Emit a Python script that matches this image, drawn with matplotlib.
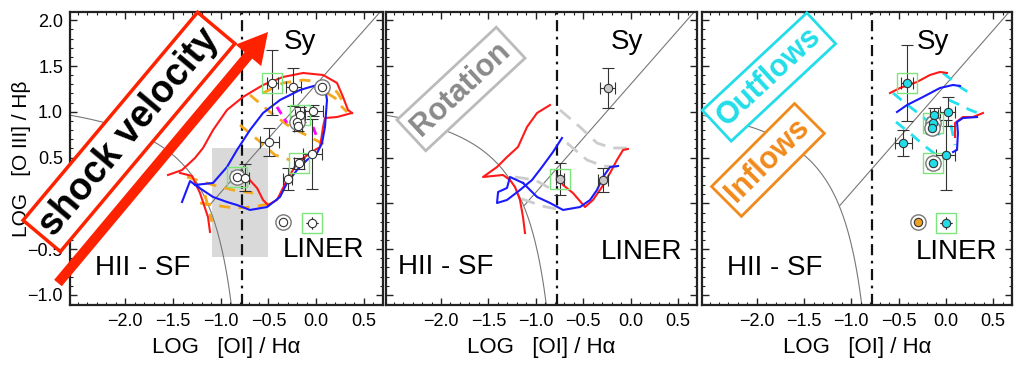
import matplotlib.pyplot as plt
import matplotlib.patches as mpatches
import numpy as np
from matplotlib.ticker import MultipleLocator

plt.rcParams['font.family'] = ['Liberation Sans', 'DejaVu Sans']

XLIM = (-2.58, 0.70)
YLIM = (-1.11, 2.09)
AGN_CUT = -0.78

# ---- panel 1 : shock models ----
p1_red_a = ([-1.553, -1.406, -1.270, -1.186, -1.081, -0.935, -0.767, -0.557, -0.348, -0.138, 0.072, 0.218, 0.281, 0.333, 0.375],
            [0.310, 0.364, 0.496, 0.605, 0.801, 1.020, 1.162, 1.293, 1.380, 1.424, 1.402, 1.315, 1.162, 1.020, 0.987])
p1_red_b = ([-0.851, -0.725, -0.620, -0.557, -0.505, -0.411, -0.306, -0.201, -0.065, 0.040, 0.072, 0.092, 0.218, 0.375],
            [0.343, 0.288, 0.168, 0.037, -0.018, 0.037, 0.255, 0.441, 0.550, 0.616, 0.834, 0.932, 0.943, 0.987])
p1_red_c = ([-1.427, -1.301, -1.218, -1.134, -1.113],
            [0.332, 0.299, 0.113, -0.149, -0.312])
p1_blue = ([-1.406, -1.322, -1.239, -1.081, -0.935, -0.830, -0.694, -0.515, -0.379, -0.306, -0.201, -0.096, 0.009, 0.061,
            0.092, 0.113, 0.092, 0.009, -0.170, -0.379, -0.557, -0.694, -0.830, -0.935, -1.081, -1.270],
           [0.015, 0.244, 0.179, 0.070, 0.015, -0.018, -0.072, -0.040, 0.070, 0.223, 0.364, 0.474, 0.550, 0.659,
            0.834, 1.129, 1.271, 1.293, 1.238, 1.129, 0.987, 0.801, 0.583, 0.397, 0.223, 0.201])
p1_orange = [
    ([-0.557, -0.348, -0.138, 0.072, 0.218, 0.302], [1.205, 1.315, 1.347, 1.326, 1.216, 1.074]),
    ([-0.694, -0.484, -0.274, -0.065, 0.092], [1.184, 0.998, 0.834, 0.725, 0.637]),
    ([-0.798, -0.610, -0.432, -0.274], [0.856, 0.692, 0.528, 0.474]),
    ([-1.354, -1.081, -0.872, -0.662], [0.288, 0.201, 0.146, 0.113]),
    ([-1.218, -0.872, -0.662, -0.453], [0.004, -0.050, -0.040, 0.004]),
    ([-1.165, -1.092], [0.092, -0.203]),
    ([0.113, 0.197, 0.250, 0.323], [1.205, 1.151, 1.074, 0.998]),
]
p1_magenta = [
    ([-0.411, -0.306], [1.053, 0.878]),
    ([-0.033, 0.019], [0.834, 0.692]),
]
p1_x = [-0.46, -0.24, 0.06, -0.03, -0.17, -0.20, -0.19, -0.49, -0.04, -0.18, -0.30, -0.83, -0.75, -0.35, -0.04]
p1_y = [1.32, 1.27, 1.27, 1.01, 0.97, 0.89, 0.85, 0.67, 0.54, 0.44, 0.27, 0.29, 0.28, -0.20, -0.21]
p1_xerr = [0.06, 0.08, 0.05, 0.10, 0.05, 0.04, 0.04, 0.10, 0.10, 0.05, 0.05, 0.05, 0.05, 0.0, 0.0]
p1_yerr = [0.35, 0.21, 0.05, 0.06, 0.08, 0.06, 0.06, 0.15, 0.38, 0.06, 0.12, 0.06, 0.15, 0.0, 0.0]
p1_boxed = [0, 4, 9, 11, 14]
p1_ringed = [2, 5, 11, 13]
p1_shade = (-1.09, -0.505, -0.585, 0.605)

# ---- panel 2 : rotation ----
p2_red_a = ([-0.850, -0.987, -1.093, -1.188, -1.304, -1.409, -1.557, -1.346, -1.272, -1.219, -1.167, -1.135, -1.114],
            [1.074, 0.987, 0.834, 0.616, 0.506, 0.397, 0.288, 0.310, 0.255, 0.179, 0.037, -0.149, -0.324])
p2_red_b = ([-0.745, -0.713, -0.608, -0.481, -0.397, -0.302, -0.217, -0.144, -0.080, -0.028],
            [0.266, 0.201, 0.113, -0.040, 0.037, 0.179, 0.332, 0.474, 0.583, 0.594])
p2_blue_a = ([-0.724, -0.819, -0.935, -1.040, -1.167, -1.304, -1.409, -1.398, -1.304, -1.272, -1.135],
             [0.714, 0.561, 0.397, 0.255, 0.146, 0.037, 0.004, 0.124, 0.168, 0.288, 0.223])
p2_blue_b = ([-1.135, -0.987, -0.850, -0.713, -0.534, -0.428, -0.355, -0.291, -0.217, -0.133],
             [0.223, 0.070, 0.004, -0.072, -0.040, 0.037, 0.146, 0.288, 0.397, 0.408])
p2_gray = [
    ([-0.745, -0.534, -0.355, -0.196, -0.038], [1.020, 0.834, 0.659, 0.605, 0.605]),
    ([-0.671, -0.460, -0.291, -0.144], [0.659, 0.474, 0.408, 0.397]),
    ([-1.219, -1.008, -0.819], [0.288, 0.255, 0.146]),
    ([-1.150, -0.930, -0.700], [0.050, -0.030, -0.080]),
]
p2_x = [-0.24, -0.745, -0.29]
p2_y = [1.26, 0.266, 0.255]
p2_xerr = [0.08, 0.04, 0.05]
p2_yerr = [0.22, 0.18, 0.13]
p2_boxed = [1]

# ---- panel 3 : outflows / inflows ----
p3_red_a = ([-0.591, -0.485, -0.305, -0.168, -0.062, 0.012], [1.205, 1.260, 1.326, 1.402, 1.435, 1.424])
p3_red_b = ([0.097, 0.097, 0.181, 0.287, 0.393], [0.725, 0.878, 0.943, 0.943, 0.987])
p3_blue_a = ([-0.517, -0.411, -0.242, -0.062, 0.076, 0.150], [0.998, 1.074, 1.162, 1.260, 1.293, 1.282])
p3_blue_b = ([0.076, 0.118, 0.128, 0.118, 0.181, 0.330], [0.561, 0.583, 0.769, 0.889, 0.932, 0.943])
p3_cyan = [
    ([-0.559, -0.432, -0.295, -0.168, -0.062], [1.205, 1.096, 0.987, 0.878, 0.747]),
    ([-0.527, -0.358, -0.210, -0.073], [0.889, 0.747, 0.616, 0.506]),
    ([-0.030, 0.065, 0.150, 0.234], [1.424, 1.347, 1.271, 1.216]),
    ([0.033, 0.150, 0.256, 0.340], [1.129, 1.074, 1.020, 0.987]),
    ([0.054, 0.097], [0.856, 0.637]),
]
p3_x = [-0.41, -0.45, -0.125, -0.14, -0.15, 0.02, 0.00, -0.14, 0.00]
p3_y = [1.315, 0.66, 0.965, 0.88, 0.82, 1.00, 0.53, 0.44, -0.21]
p3_xerr = [0.06, 0.09, 0.04, 0.04, 0.04, 0.08, 0.10, 0.04, 0.0]
p3_yerr = [0.41, 0.14, 0.08, 0.06, 0.06, 0.16, 0.38, 0.06, 0.0]
p3_boxed = [0, 3, 7, 8]
p3_ringed = [3, 4, 7]
p3_inflow = (-0.295, -0.20)

# ---- figure ----
fig = plt.figure(figsize=(10.16, 3.65), dpi=100)
lefts = [70, 386, 702]
rights = [383, 697, 1012]
axes = [fig.add_axes([l / 1016, 60 / 365, (r - l) / 1016, 293 / 365]) for l, r in zip(lefts, rights)]

sf_x = np.linspace(XLIM[0], -0.86, 200)
sf_y = 0.73 / (sf_x + 0.59) + 1.33
sy_x = np.array([-1.12, 0.75])
sy_y = 1.18 * sy_x + 1.30

for i, ax in enumerate(axes):
    ax.set_xlim(XLIM)
    ax.set_ylim(YLIM)
    ax.plot(sf_x, sf_y, color='#777777', lw=0.8, zorder=1)
    ax.plot(sy_x, sy_y, color='#777777', lw=0.8, zorder=1)
    ax.axvline(AGN_CUT, color='#111111', lw=1.6, ls=(0, (5, 2.5, 1.2, 2.5)), zorder=1)
    ax.set_xticks([-2.0, -1.5, -1.0, -0.5, 0.0, 0.5])
    ax.set_xticklabels(['\u22122.0', '\u22121.5', '\u22121.0', '\u22120.5', '0.0', '0.5'])
    ax.set_yticks([-1.0, -0.5, 0.0, 0.5, 1.0, 1.5, 2.0])
    ax.xaxis.set_minor_locator(MultipleLocator(0.1))
    ax.yaxis.set_minor_locator(MultipleLocator(0.1))
    ax.tick_params(which='both', direction='in', top=True, right=True, color='#222222', labelsize=13)
    ax.tick_params(which='major', length=5, width=1)
    ax.tick_params(which='minor', length=2.5, width=0.8)
    ax.tick_params(axis='x', pad=6)
    ax.tick_params(axis='y', pad=5)
    for s in ax.spines.values():
        s.set_linewidth(1.6)
        s.set_color('#222222')
    ax.set_xlabel('LOG   [OI] / H\u03b1', fontsize=16, labelpad=5)
    if i > 0:
        ax.set_yticklabels([])

axes[0].set_ylabel('LOG   [O III] / H\u03b2', fontsize=15)
axes[0].yaxis.set_label_coords(-0.125, 0.5)

# region labels
sy_pos = [(-0.17, 1.76), (-0.04, 1.76), (-0.14, 1.76)]
liner_pos = [(0.08, -0.51), (0.11, -0.53), (0.11, -0.53)]
hii_pos = [(-1.82, -0.71), (-1.95, -0.69), (-1.81, -0.71)]
for ax, s, l, h in zip(axes, sy_pos, liner_pos, hii_pos):
    ax.text(*s, 'Sy', fontsize=20, ha='center', va='center', zorder=6)
    ax.text(*l, 'LINER', fontsize=20, ha='center', va='center', zorder=6)
    ax.text(*h, 'HII - SF', fontsize=20, ha='center', va='center', zorder=6)


def draw_points(ax, x, y, xerr, yerr, face, boxed, ringed=()):
    x = np.array(x); y = np.array(y)
    ax.errorbar(x, y, xerr=xerr, yerr=yerr, fmt='none', ecolor='#333333', elinewidth=0.8,
                capsize=4, capthick=0.8, zorder=3)
    ax.plot(x[list(boxed)], y[list(boxed)], 's', mfc='none', mec='#7ce57c', ms=15, mew=1.0, zorder=3)
    if len(ringed):
        ax.plot(x[list(ringed)], y[list(ringed)], 'o', mfc='white', mec='#777777', ms=11, mew=1.0, zorder=3.5)
    ax.plot(x, y, 'o', mfc=face, mec='#333333', ms=6, mew=0.8, zorder=4)


# panel 1
ax = axes[0]
ax.add_patch(mpatches.Rectangle((p1_shade[0], p1_shade[2]), p1_shade[1] - p1_shade[0], p1_shade[3] - p1_shade[2],
                                fc='#d9d9d9', ec='none', zorder=0.5))
for seg in p1_orange:
    ax.plot(*seg, color='#f5a81c', lw=2.0, ls=(0, (4, 3)), zorder=2)
for seg in p1_magenta:
    ax.plot(*seg, color='#ff00ff', lw=2.0, ls=(0, (3, 2)), zorder=2)
for seg in (p1_red_a, p1_red_b, p1_red_c):
    ax.plot(*seg, color='#ff1a1a', lw=1.5, zorder=2.2)
ax.plot(*p1_blue, color='#1a1aff', lw=1.5, zorder=2.2)
draw_points(ax, p1_x, p1_y, p1_xerr, p1_yerr, 'white', p1_boxed, p1_ringed)

arr = ax.annotate('', xy=(-0.505, 1.872), xytext=(-2.706, -0.870), annotation_clip=False,
                  arrowprops=dict(arrowstyle='simple,head_width=1.2,head_length=1.1,tail_width=0.36',
                                  fc='#ff2200', ec='none', shrinkA=0, shrinkB=0, mutation_scale=20), zorder=7)
arr.arrow_patch.set_clip_on(False)
ax.text(-1.962, 0.78, 'shock velocity', rotation=50, fontsize=27, fontweight='bold', ha='center', va='center',
        rotation_mode='anchor', zorder=8, clip_on=False,
        bbox=dict(boxstyle='square,pad=0.17', fc='white', ec='#ff2200', lw=2.5))

# panel 2
ax = axes[1]
for seg in p2_gray:
    ax.plot(*seg, color='#cccccc', lw=2.0, ls=(0, (5, 3)), zorder=2)
for seg in (p2_red_a, p2_red_b):
    ax.plot(*seg, color='#ff1a1a', lw=1.5, zorder=2.2)
for seg in (p2_blue_a, p2_blue_b):
    ax.plot(*seg, color='#1a1aff', lw=1.5, zorder=2.2)
draw_points(ax, p2_x, p2_y, p2_xerr, p2_yerr, '#c8c8c8', p2_boxed)
ax.text(-1.789, 1.249, 'Rotation', rotation=43, fontsize=22, fontweight='bold', color='#8a8a8a',
        ha='center', va='center', rotation_mode='anchor', zorder=8,
        bbox=dict(boxstyle='square,pad=0.2', fc='white', ec='#bbbbbb', lw=2))

# panel 3
ax = axes[2]
for seg in p3_cyan:
    ax.plot(*seg, color='#22e0ee', lw=2.0, ls=(0, (4, 3)), zorder=2)
for seg in (p3_red_a, p3_red_b):
    ax.plot(*seg, color='#ff1a1a', lw=1.5, zorder=2.2)
for seg in (p3_blue_a, p3_blue_b):
    ax.plot(*seg, color='#1a1aff', lw=1.5, zorder=2.2)
draw_points(ax, p3_x, p3_y, p3_xerr, p3_yerr, '#22dde8', p3_boxed, p3_ringed)
ax.plot(*p3_inflow, 'o', mfc='white', mec='#777777', ms=11, mew=1.0, zorder=3.5)
ax.plot(*p3_inflow, 'o', mfc='#f0a020', mec='#333333', ms=6, mew=0.8, zorder=4)
ax.text(-1.871, 1.38, 'Outflows', rotation=43, fontsize=22, fontweight='bold', color='#22dde8',
        ha='center', va='center', rotation_mode='anchor', zorder=8, clip_on=False,
        bbox=dict(boxstyle='square,pad=0.2', fc='white', ec='#22dde8', lw=2))
ax.text(-1.882, 0.474, 'Inflows', rotation=45, fontsize=22, fontweight='bold', color='#f08a1c',
        ha='center', va='center', rotation_mode='anchor', zorder=8, clip_on=False,
        bbox=dict(boxstyle='square,pad=0.2', fc='white', ec='#f08a1c', lw=2))

fig.savefig('out.png', dpi=100)
